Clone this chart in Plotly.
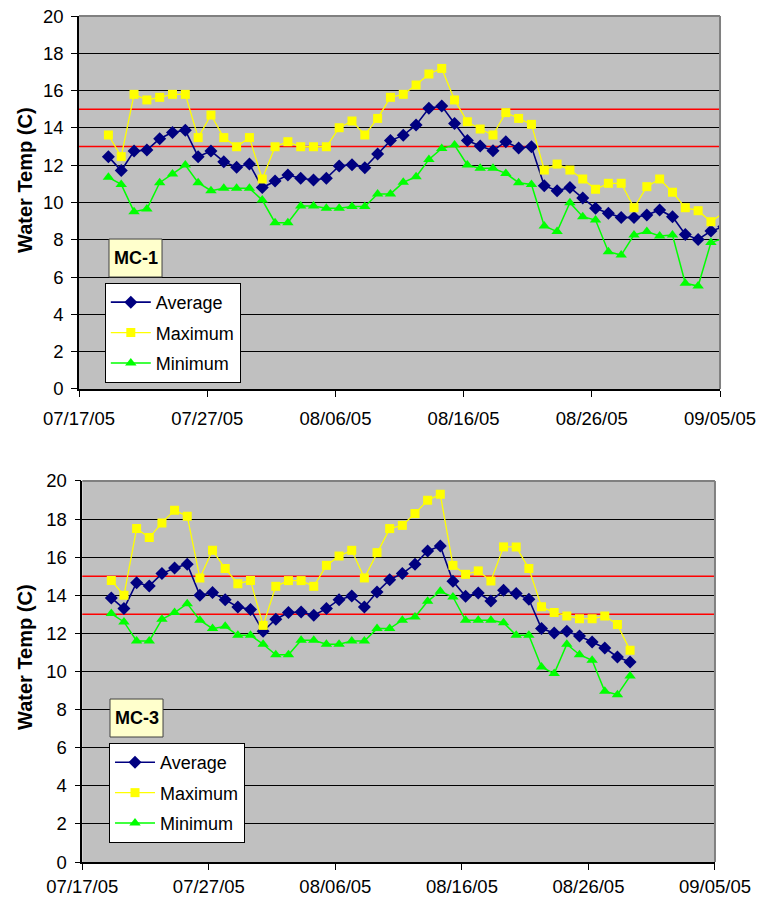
import pandas as pd
import plotly.graph_objects as go

# Daily water temperature (deg C) at two monitoring stations, summer 2005
mc1_avg = [12.46, 11.71, 12.76, 12.81, 13.42, 13.76, 13.87, 12.46, 12.76, 12.19,
           11.89, 12.06, 10.80, 11.15, 11.47, 11.30, 11.21, 11.30, 11.96, 12.03,
           11.87, 12.60, 13.32, 13.60, 14.16, 15.05, 15.17, 14.24, 13.32, 13.03,
           12.78, 13.26, 12.92, 12.99, 10.90, 10.63, 10.81, 10.24, 9.69, 9.42,
           9.19, 9.20, 9.33, 9.60, 9.24, 8.29, 8.02, 8.47, 8.70]
mc1_max = [13.62, 12.46, 15.80, 15.50, 15.64, 15.80, 15.80, 13.48, 14.69, 13.48,
           12.99, 13.48, 11.26, 12.99, 13.26, 12.99, 12.99, 12.99, 14.01, 14.37,
           13.62, 14.51, 15.64, 15.80, 16.30, 16.89, 17.19, 15.50, 14.33, 13.94,
           13.62, 14.82, 14.51, 14.19, 11.74, 12.06, 11.74, 11.26, 10.71, 11.03,
           11.03, 9.72, 10.85, 11.26, 10.55, 9.72, 9.56, 8.97, 9.45]
mc1_min = [11.35, 10.97, 9.51, 9.65, 11.06, 11.53, 12.01, 11.06, 10.63, 10.76,
           10.76, 10.76, 10.13, 8.92, 8.92, 9.81, 9.81, 9.69, 9.69, 9.78,
           9.78, 10.46, 10.46, 11.08, 11.38, 12.31, 12.90, 13.08, 12.01, 11.83,
           11.83, 11.56, 11.06, 10.97, 8.74, 8.44, 9.99, 9.24, 9.06, 7.36,
           7.18, 8.26, 8.44, 8.20, 8.26, 5.67, 5.52, 7.85, 8.08]

mc3_avg = [13.86, 13.30, 14.66, 14.49, 15.14, 15.43, 15.63, 14.00, 14.14, 13.77,
           13.39, 13.25, 12.11, 12.74, 13.09, 13.12, 12.95, 13.30, 13.77, 13.96,
           13.39, 14.17, 14.82, 15.14, 15.63, 16.33, 16.59, 14.73, 13.95, 14.12,
           13.70, 14.26, 14.09, 13.79, 12.25, 12.02, 12.11, 11.86, 11.55, 11.23,
           10.76, 10.50]
mc3_max = [14.77, 14.00, 17.50, 17.03, 17.80, 18.46, 18.15, 14.91, 16.36, 15.40,
           14.61, 14.77, 12.42, 14.47, 14.77, 14.77, 14.47, 15.57, 16.06, 16.36,
           14.91, 16.24, 17.50, 17.67, 18.29, 18.99, 19.30, 15.57, 15.10, 15.28,
           14.75, 16.54, 16.54, 15.40, 13.40, 13.09, 12.91, 12.77, 12.77, 12.91,
           12.46, 11.11]
mc3_min = [13.04, 12.60, 11.60, 11.60, 12.74, 13.09, 13.56, 12.69, 12.25, 12.37,
           11.90, 11.90, 11.43, 10.88, 10.88, 11.64, 11.64, 11.43, 11.43, 11.60,
           11.60, 12.25, 12.25, 12.69, 12.86, 13.68, 14.21, 13.91, 12.69, 12.69,
           12.69, 12.56, 11.90, 11.90, 10.24, 9.89, 11.43, 10.88, 10.59, 8.96,
           8.78, 9.76]

# Readings are logged once a day, starting on 19 July
mc1_dates = pd.date_range("2005-07-19 07:00", periods=len(mc1_avg), freq="D")
mc3_dates = pd.date_range("2005-07-19 07:00", periods=len(mc3_avg), freq="D")

# Temperature thresholds marked on both panels
thresholds = [13, 15]
stations = ["MC-1", "MC-3"]
axis_start, axis_end = "2005-07-17", "2005-09-05"

FONT = "Arial, Liberation Sans, sans-serif"

series_style = {
    "Average": dict(color="#000080", symbol="diamond", size=10, width=1.6),
    "Maximum": dict(color="#FFFF00", symbol="square", size=9, width=1.3),
    "Minimum": dict(color="#00FF00", symbol="triangle-up", size=10, width=1.5),
}

fig = go.Figure()

panels = [
    (mc1_dates, {"Average": mc1_avg, "Maximum": mc1_max, "Minimum": mc1_min}, "x", "y", "legend"),
    (mc3_dates, {"Average": mc3_avg, "Maximum": mc3_max, "Minimum": mc3_min}, "x2", "y2", "legend2"),
]

for dates, series, xa, ya, leg in panels:
    for name, vals in series.items():
        st = series_style[name]
        fig.add_trace(go.Scatter(
            x=dates, y=vals, name=name, mode="lines+markers",
            xaxis=xa, yaxis=ya, legend=leg, legendgroup=leg + name,
            line=dict(color=st["color"], width=st["width"]),
            marker=dict(symbol=st["symbol"], size=st["size"], color=st["color"],
                        line=dict(width=0)),
            cliponaxis=True,
        ))

axis_font = dict(family=FONT, size=18.5, color="black")

def xaxis_cfg(domain, standoff):
    return dict(
        domain=domain, type="date", range=[axis_start, axis_end],
        tick0=axis_start, dtick=10 * 86400000, tickformat="%m/%d/%y",
        ticks="outside", ticklen=6, tickcolor="black", tickwidth=1,
        showline=True, linecolor="black", linewidth=1.5,
        showgrid=False, zeroline=False, tickfont=axis_font,
        ticklabelstandoff=standoff, automargin=False, fixedrange=True,
    )

def yaxis_cfg(domain, anchor):
    return dict(
        domain=domain, anchor=anchor, range=[0, 20], dtick=2,
        ticks="outside", ticklen=6, tickcolor="black", tickwidth=1,
        showline=True, linecolor="black", linewidth=1.5,
        showgrid=True, gridcolor="black", gridwidth=1, zeroline=False,
        tickfont=axis_font, ticklabelstandoff=4, automargin=False, fixedrange=True,
    )

legend_common = dict(xanchor="left", yanchor="top",
                     bgcolor="white", bordercolor="black", borderwidth=1,
                     font=dict(family=FONT, size=18), traceorder="grouped",
                     tracegroupgap=4, itemwidth=40)

fig.update_layout(
    width=765, height=900,
    margin=dict(l=0, r=0, t=0, b=0),
    paper_bgcolor="white", plot_bgcolor="#C0C0C0",
    font=dict(family=FONT, size=18, color="black"),
    xaxis=xaxis_cfg([0.1033, 0.9412], 6) | dict(anchor="y"),
    yaxis=yaxis_cfg([0.5678, 0.9822], "x"),
    xaxis2=xaxis_cfg([0.1076, 0.9346], 1) | dict(anchor="y2"),
    yaxis2=yaxis_cfg([0.0422, 0.4656], "x2"),
    showlegend=True,
    legend=dict(x=0.137, y=0.6856, **legend_common),
    legend2=dict(x=0.1425, y=0.1744, **legend_common),
)

# Threshold lines, plot-area frame and station labels
for xa, ya in [("x", "y"), ("x2", "y2")]:
    for t in thresholds:
        fig.add_shape(type="line", xref=f"{xa} domain", yref=ya, x0=0, x1=1, y0=t, y1=t,
                      line=dict(color="#FF0000", width=1.5), layer="below")
    fig.add_shape(type="line", xref=f"{xa} domain", yref=f"{ya} domain", x0=0, x1=1, y0=1, y1=1,
                  line=dict(color="#808080", width=2), layer="above")
    fig.add_shape(type="line", xref=f"{xa} domain", yref=f"{ya} domain", x0=1, x1=1, y0=0, y1=1,
                  line=dict(color="#808080", width=2), layer="above")

label_boxes = [(0.1425, 0.2118, 0.6922, 0.7344), (0.1438, 0.2131, 0.1811, 0.2233)]
for name, (x0, x1, y0, y1) in zip(stations, label_boxes):
    fig.add_shape(type="rect", xref="paper", yref="paper", x0=x0, x1=x1, y0=y0, y1=y1,
                  fillcolor="#FFFFCC", line=dict(color="#404040", width=1), layer="above")
    fig.add_annotation(xref="paper", yref="paper", x=(x0 + x1) / 2, y=(y0 + y1) / 2,
                       xanchor="center", yanchor="middle",
                       text=f"<b>{name}</b>", showarrow=False,
                       font=dict(family=FONT, size=18, color="black"))

for ycenter in [0.80, 0.27]:
    fig.add_annotation(xref="paper", yref="paper", x=25 / 765, y=ycenter,
                       xanchor="center", yanchor="middle",
                       text="<b>Water Temp (C)</b>", textangle=-90, showarrow=False,
                       font=dict(family=FONT, size=20, color="black"))

fig.write_html("out.html")
